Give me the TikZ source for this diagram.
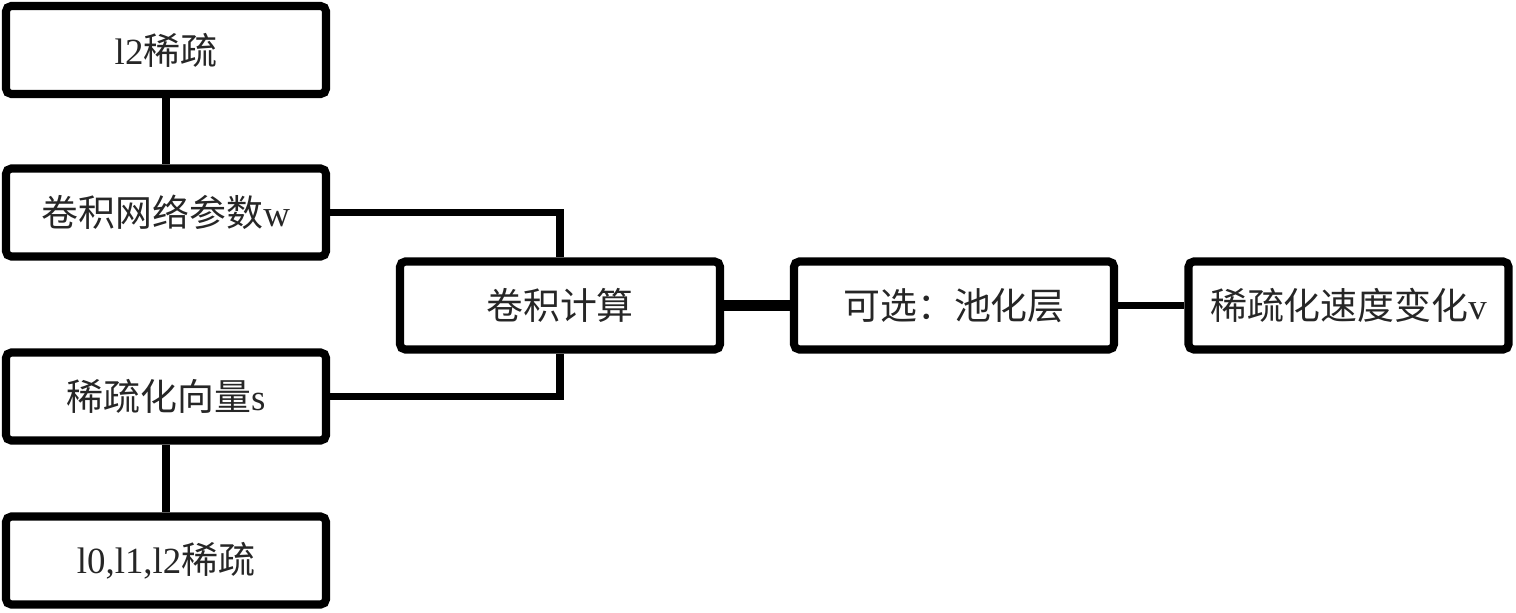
\documentclass[tikz,border=0pt]{standalone}
\usepackage{fontspec}
\setmainfont{Liberation Serif}
\newfontfamily\cjk{Noto Sans CJK SC}
\usepackage{tikz}

\begin{document}
\begin{tikzpicture}[
    font=\fontsize{10.5}{12}\selectfont,
    block/.style={draw=black, line width=2.3pt, rounded corners=1.5pt,
        minimum width=3.2cm, minimum height=0.88cm, inner sep=2pt,
        text=black!85, align=center},
    link/.style={draw=black, line width=2pt},
    thicklink/.style={draw=black, line width=3.4pt}
]
\useasboundingbox (0,0) rectangle (15.16,-6.12);
\node[block] (ltwo) at (1.66,-0.50) {l2{\cjk 稀疏}};
\node[block] (param) at (1.66,-2.125) {{\cjk 卷积网络参数}w};
\node[block] (sparse) at (1.66,-3.965) {{\cjk 稀疏化向量}s};
\node[block] (lnorm) at (1.66,-5.605) {l0,l1,l2{\cjk 稀疏}};
\node[block] (conv) at (5.60,-3.055) {\cjk 卷积计算};
\node[block] (pool) at (9.54,-3.055) {\cjk 可选：池化层};
\node[block] (speed) at (13.485,-3.055) {{\cjk 稀疏化速度变化}v};
\draw[link] (ltwo) -- (param);
\draw[link] (sparse) -- (lnorm);
\draw[link] (param.east) -| (conv.north);
\draw[link] (sparse.east) -| (conv.south);
\draw[thicklink] (conv) -- (pool);
\draw[link] (pool) -- (speed);
\end{tikzpicture}
\end{document}
